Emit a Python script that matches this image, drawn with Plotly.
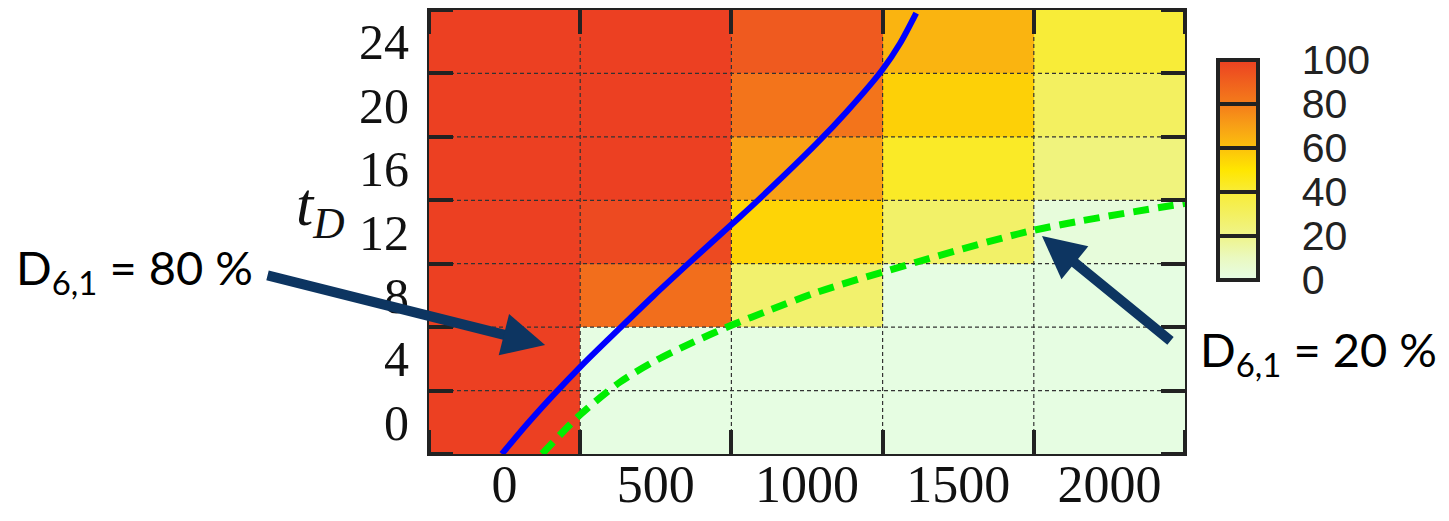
import plotly.graph_objects as go

# ---- data ----
x_vals = [0, 500, 1000, 1500, 2000]
x_labels = ["0", "500", "1000", "1500", "2000"]
y_vals = [0, 4, 8, 12, 16, 20, 24]
y_labels = ["0", "4", "8", "12", "16", "20", "24"]

# rows bottom (t_D=0) to top (t_D=24), columns x_vals
z_rows = [
    [100, 1, 1, 1, 1],     # 0
    [100, 1, 1, 1, 1],     # 4
    [100, 85, 27, 1, 1],   # 8
    [100, 97, 55, 28, 3],  # 12
    [100, 100, 70, 43, 23],  # 16
    [100, 100, 83, 56, 30],  # 20
    [100, 100, 92, 64, 40],  # 24
]

# D_{6,1} = 80 % contour (blue)
blue_x = [-9, 84, 256, 382, 491, 613, 752, 835, 1033, 1132, 1248, 1308, 1361]
blue_y = [-2.0, 0.1, 3.6, 5.95, 7.95, 10.1, 12.5, 13.95, 17.6, 19.6, 22.2, 23.9, 25.8]
# D_{6,1} = 20 % contour (green dashed)
green_x = [124, 249, 382, 491, 603, 752, 877, 1033, 1251, 1747, 2250]
green_y = [-2.0, 0.46, 2.54, 3.80, 4.87, 6.13, 7.08, 8.2, 9.48, 12.1, 13.8]

cbar_ticks = [0, 20, 40, 60, 80, 100]

colorscale = [
    [0.0, "#e6fde6"], [0.1, "#eaf9c0"], [0.2, "#eff48a"], [0.3, "#f3f060"],
    [0.4, "#f8ec38"], [0.5, "#ffe600"], [0.6, "#fcc10c"], [0.7, "#f8a016"],
    [0.8, "#f47c1a"], [0.9, "#f0601e"], [1.0, "#ec4022"],
]

dx = x_vals[1] - x_vals[0]
dy = y_vals[1] - y_vals[0]
x_bounds = [x_vals[0] - dx / 2] + [v + dx / 2 for v in x_vals]
y_bounds = [y_vals[0] - dy / 2] + [v + dy / 2 for v in y_vals]
xr = [x_bounds[0], x_bounds[-1]]
yr = [y_bounds[0], y_bounds[-1]]

PL, PR, PT, PB = 429, 1185, 10, 454  # plot area in pixels
PW, PH = PR - PL, PB - PT

cb_pos = dict(x=(1218 - PL) / PW, xanchor="left", xpad=0,
              y=(PB - 170) / PH, yanchor="middle", ypad=0,
              thickness=40, lenmode="pixels", len=220, tickvals=cbar_ticks)

fig = go.Figure()
# heatmap whose colour bar carries the labels (spaced out by invisible ticks)
fig.add_trace(go.Heatmap(
    x=x_vals, y=y_vals, z=z_rows, zmin=0, zmax=100, colorscale=colorscale,
    colorbar=dict(**cb_pos, outlinewidth=0,
                  ticks="outside", ticklen=36, tickcolor="rgba(0,0,0,0)",
                  tickfont=dict(family="Liberation Sans", size=41, color="#222")),
    hoverinfo="skip",
))
# same heatmap drawn again; its colour bar carries the outline and inner ticks
fig.add_trace(go.Heatmap(
    x=x_vals, y=y_vals, z=z_rows, zmin=0, zmax=100, colorscale=colorscale,
    colorbar=dict(**cb_pos, outlinewidth=4, outlinecolor="#222",
                  ticks="inside", ticklen=40, tickwidth=4, tickcolor="#222",
                  showticklabels=False),
    hoverinfo="skip",
))

# dashed grid lines at the cell boundaries
gx, gy = [], []
for b in x_bounds[1:-1]:
    gx += [b, b, None]
    gy += [yr[0], yr[1], None]
for b in y_bounds[1:-1]:
    gx += [xr[0], xr[1], None]
    gy += [b, b, None]
fig.add_trace(go.Scatter(x=gx, y=gy, mode="lines",
                         line=dict(color="#333", width=1.2, dash="4px,3px"),
                         showlegend=False, hoverinfo="skip"))

fig.add_trace(go.Scatter(x=blue_x, y=blue_y, mode="lines",
                         line=dict(color="#0000ff", width=6, shape="spline", smoothing=0.8),
                         showlegend=False))
fig.add_trace(go.Scatter(x=green_x, y=green_y, mode="lines",
                         line=dict(color="#00ee00", width=7, shape="spline", smoothing=0.8,
                                   dash="16px,9px"),
                         showlegend=False))

axis_common = dict(showgrid=False, zeroline=False, showline=True, linewidth=2,
                   linecolor="#222", mirror="allticks", layer="above traces", ticks="",
                   automargin=False)

fig.update_xaxes(range=xr, tickvals=x_vals, ticktext=x_labels,
                 tickfont=dict(family="Liberation Serif", size=52, color="#111"),
                 ticklabelstandoff=-16,
                 minor=dict(tickvals=x_bounds, ticks="inside", ticklen=24, tickwidth=4,
                            tickcolor="#222", showgrid=False),
                 **axis_common)
fig.update_yaxes(range=yr, tickvals=y_vals, ticktext=y_labels,
                 tickfont=dict(family="Liberation Serif", size=50, color="#111"),
                 ticklabelstandoff=8,
                 minor=dict(tickvals=y_bounds, ticks="inside", ticklen=24, tickwidth=4,
                            tickcolor="#222", showgrid=False),
                 **axis_common)

ann_font = dict(family="Lato", size=47, color="#000")
arrow_color = "#0d3561"
fig.update_layout(
    width=1449, height=521,
    margin=dict(l=PL, r=1449 - PR, t=PT, b=521 - PB),
    paper_bgcolor="white", plot_bgcolor="white",
    showlegend=False,
    annotations=[
        dict(text="<i>t</i><sub><i>D</i></sub>", xref="paper", yref="paper",
             x=(347 - PL) / PW, xanchor="right", y=(PB - 208) / PH, yanchor="middle",
             showarrow=False,
             font=dict(family="Liberation Serif", size=62, color="#111")),
        dict(text="D<sub>6,1</sub> = 80 %", xref="paper", yref="paper",
             x=(14 - PL) / PW, xanchor="left", y=(PB - 270) / PH, yanchor="middle",
             showarrow=False, font=ann_font),
        dict(text="D<sub>6,1</sub> = 20 %", xref="paper", yref="paper",
             x=(1198 - PL) / PW, xanchor="left", y=(PB - 352) / PH, yanchor="middle",
             showarrow=False, font=ann_font),
        dict(text="", x=134, y=4.87, xref="x", yref="y", axref="x", ayref="y",
             ax=-789, ay=9.29, showarrow=True, arrowhead=2, arrowsize=0.85,
             arrowwidth=10, arrowcolor=arrow_color),
        dict(text="", x=1777, y=11.75, xref="x", yref="y", axref="x", ayref="y",
             ax=2207, ay=5.06, showarrow=True, arrowhead=2, arrowsize=0.85,
             arrowwidth=10, arrowcolor=arrow_color),
    ],
)

fig.write_html("out.html")
